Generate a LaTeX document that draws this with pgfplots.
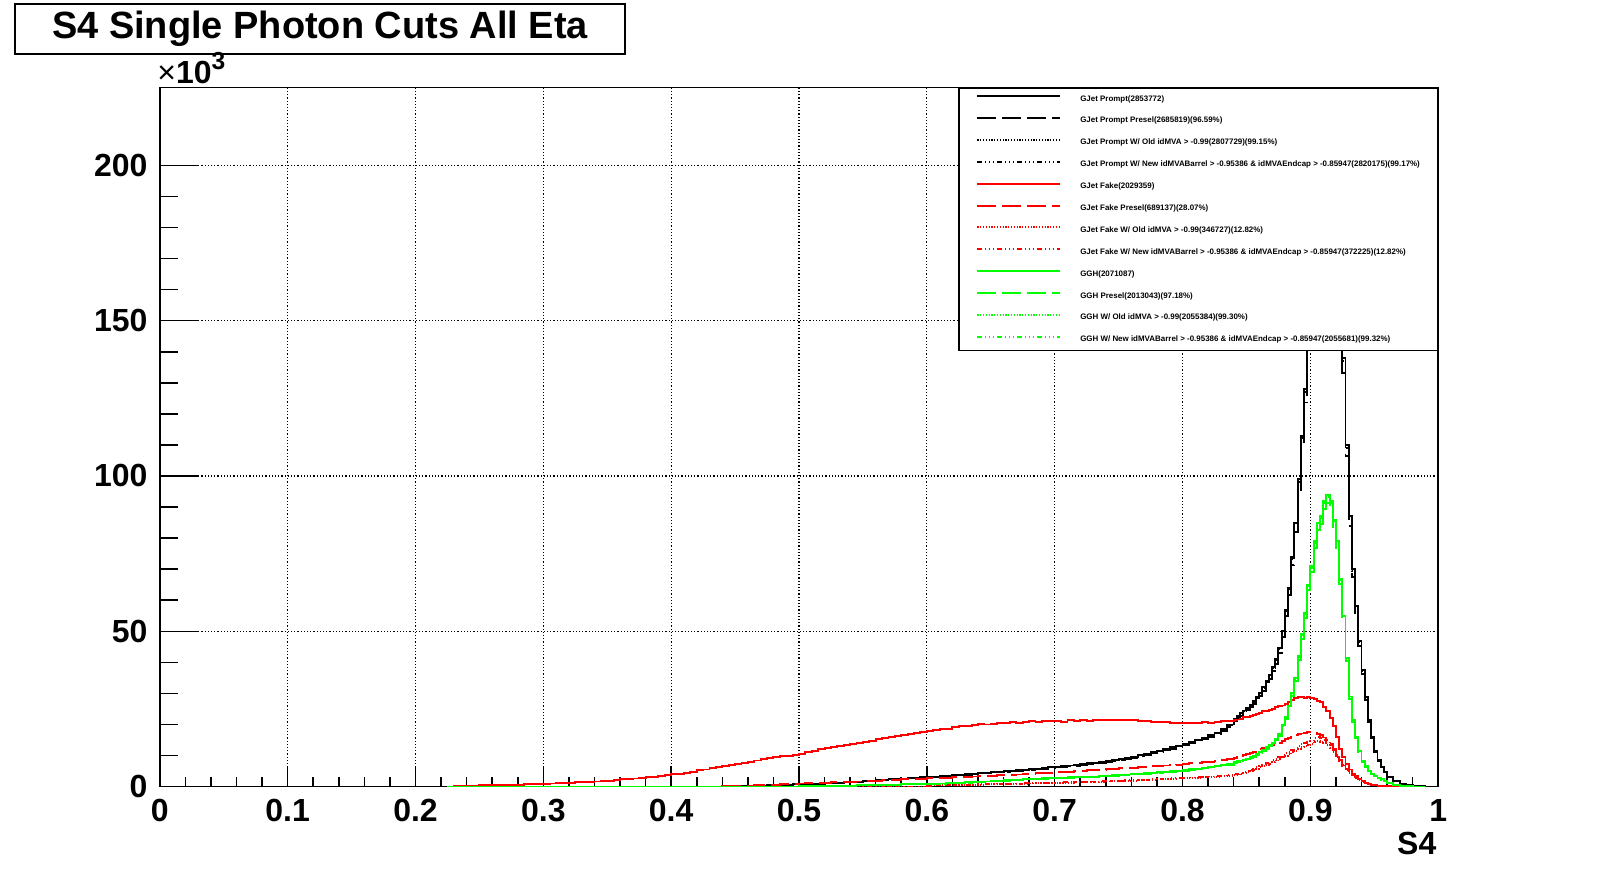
\documentclass[border=0pt]{standalone}
\usepackage{fontspec}
\setmainfont{Liberation Sans}
\usepackage{pgfplots}
\usepackage{pgfplotstable}
\pgfplotsset{compat=1.18}
\pgfplotstableread{
x p pp pm f fp fo fn g gp gm
0.225 0 0 0 0 0 0 0 0 0 0
0.230 0 0 0 0.15 0 0 0 0 0 0
0.235 0 0 0 0.30 0 0 0 0 0 0
0.240 0 0 0 0.35 0 0 0 0 0 0
0.245 0 0 0 0.35 0 0 0 0 0 0
0.250 0 0 0 0.40 0 0 0 0 0 0
0.255 0 0 0 0.45 0 0 0 0 0 0
0.260 0 0 0 0.45 0 0 0 0 0 0
0.265 0 0 0 0.50 0 0 0 0 0 0
0.270 0 0 0 0.55 0 0 0 0 0 0
0.275 0 0 0 0.60 0 0 0 0 0 0
0.280 0 0 0 0.60 0 0 0 0 0 0
0.285 0 0 0 0.70 0 0 0 0 0 0
0.290 0 0 0 0.75 0 0 0 0 0 0
0.295 0 0 0 0.80 0 0 0 0 0 0
0.300 0 0 0 0.90 0 0 0 0 0 0
0.305 0 0 0 1.00 0 0 0 0 0 0
0.310 0 0 0 1.05 0 0 0 0 0 0
0.315 0 0 0 1.15 0 0 0 0 0 0
0.320 0 0 0 1.25 0 0 0 0 0 0
0.325 0 0 0 1.35 0 0 0 0 0 0
0.330 0 0 0 1.45 0 0 0 0 0 0
0.335 0 0 0 1.55 0 0 0 0 0 0
0.340 0 0 0 1.65 0 0 0 0 0 0
0.345 0 0 0 1.80 0 0 0 0 0 0
0.350 0 0 0 1.95 0 0 0 0 0 0
0.355 0 0 0 2.10 0 0 0 0 0 0
0.360 0 0 0 2.30 0 0 0 0 0 0
0.365 0 0 0 2.45 0 0 0 0 0 0
0.370 0 0 0 2.60 0 0 0 0 0 0
0.375 0 0 0 2.80 0 0 0 0 0 0
0.380 0 0 0 3.00 0 0 0 0 0 0
0.385 0 0 0 3.20 0 0 0 0 0 0
0.390 0 0 0 3.40 0 0 0 0 0 0
0.395 0 0 0 3.65 0 0 0 0 0 0
0.400 0 0 0 3.95 0 0 0 0 0 0
0.405 0 0 0 4.20 0 0 0 0 0 0
0.410 0 0 0 4.50 0 0 0 0 0 0
0.415 0 0 0 4.80 0 0 0 0 0 0
0.420 0 0 0 5.20 0 0 0 0 0 0
0.425 0 0 0 5.50 0 0 0 0 0 0
0.430 0 0 0 5.90 0 0 0 0 0 0
0.435 0 0 0 6.30 0 0 0 0 0 0
0.440 0.05 0.05 0.05 6.60 0.05 0 0 0 0 0
0.445 0.10 0.10 0.10 7.00 0.10 0 0 0 0 0
0.450 0.15 0.15 0.15 7.40 0.20 0 0 0 0 0
0.455 0.20 0.19 0.20 7.70 0.25 0 0 0 0 0
0.460 0.25 0.24 0.25 8.00 0.30 0 0 0 0 0
0.465 0.30 0.29 0.30 8.40 0.40 0 0 0 0 0
0.470 0.35 0.34 0.35 8.80 0.45 0 0 0 0 0
0.475 0.45 0.43 0.45 9.20 0.55 0 0 0 0 0
0.480 0.50 0.48 0.50 9.50 0.60 0 0 0 0 0
0.485 0.60 0.58 0.60 9.80 0.70 0 0 0 0 0
0.490 0.65 0.63 0.65 10.0 0.80 0 0 0 0 0
0.495 0.75 0.72 0.75 10.3 0.90 0 0 0 0 0
0.500 0.80 0.77 0.80 10.6 1.00 0 0 0.10 0.10 0.10
0.505 0.90 0.87 0.90 11.0 1.05 0 0 0.10 0.10 0.10
0.510 0.95 0.92 0.95 11.4 1.10 0 0 0.15 0.15 0.15
0.515 1.00 0.97 1.00 12.0 1.20 0 0 0.20 0.19 0.20
0.520 1.10 1.06 1.10 12.4 1.25 0 0 0.20 0.19 0.20
0.525 1.20 1.16 1.20 12.8 1.35 0 0 0.25 0.24 0.25
0.530 1.30 1.26 1.30 13.0 1.40 0 0 0.30 0.29 0.30
0.535 1.40 1.35 1.40 13.4 1.50 0 0 0.30 0.29 0.30
0.540 1.50 1.45 1.50 13.6 1.55 0 0 0.35 0.34 0.35
0.545 1.60 1.55 1.60 14.0 1.65 0 0 0.40 0.39 0.40
0.550 1.70 1.64 1.70 14.4 1.80 0 0 0.40 0.39 0.40
0.555 1.85 1.79 1.85 14.8 1.85 0 0 0.45 0.44 0.45
0.560 2.00 1.93 2.00 15.2 1.95 0 0 0.50 0.49 0.50
0.565 2.15 2.08 2.15 15.5 2.05 0 0 0.55 0.53 0.55
0.570 2.30 2.22 2.30 15.9 2.10 0 0 0.60 0.58 0.60
0.575 2.45 2.37 2.45 16.3 2.20 0 0 0.65 0.63 0.65
0.580 2.60 2.51 2.60 16.5 2.30 0 0 0.70 0.68 0.70
0.585 2.75 2.66 2.75 16.9 2.40 0 0 0.75 0.73 0.75
0.590 2.90 2.80 2.90 17.3 2.50 0 0 0.80 0.78 0.80
0.595 3.00 2.90 3.00 17.6 2.55 0 0 0.85 0.83 0.85
0.600 3.10 3.00 3.10 17.9 2.65 0.30 0.32 0.90 0.87 0.90
0.605 3.20 3.09 3.20 18.2 2.70 0.35 0.37 0.95 0.92 0.95
0.610 3.30 3.19 3.30 18.6 2.80 0.40 0.43 1.00 0.97 1.00
0.615 3.45 3.33 3.45 18.4 2.90 0.45 0.48 1.10 1.07 1.10
0.620 3.60 3.48 3.60 19.1 3.00 0.50 0.54 1.15 1.12 1.15
0.625 3.80 3.67 3.80 19.4 3.05 0.55 0.59 1.25 1.22 1.25
0.630 4.00 3.86 4.00 19.6 3.15 0.55 0.59 1.35 1.31 1.35
0.635 4.15 4.01 4.15 19.8 3.25 0.60 0.64 1.45 1.41 1.45
0.640 4.30 4.15 4.30 20.1 3.30 0.65 0.70 1.55 1.51 1.55
0.645 4.50 4.35 4.50 20.0 3.40 0.70 0.75 1.65 1.60 1.65
0.650 4.70 4.54 4.70 20.3 3.50 0.70 0.75 1.75 1.70 1.75
0.655 4.85 4.69 4.85 20.5 3.60 0.75 0.80 1.90 1.85 1.90
0.660 5.00 4.83 5.00 20.4 3.70 0.80 0.86 2.00 1.94 2.00
0.665 5.15 4.97 5.15 20.7 3.80 0.85 0.91 2.15 2.09 2.15
0.670 5.30 5.12 5.30 20.6 3.90 0.90 0.96 2.25 2.19 2.25
0.675 5.45 5.26 5.45 20.9 4.00 0.95 1.02 2.35 2.28 2.35
0.680 5.60 5.41 5.60 21.0 4.10 1.00 1.07 2.45 2.38 2.45
0.685 5.80 5.60 5.80 20.8 4.25 1.05 1.12 2.55 2.48 2.55
0.690 6.00 5.80 6.00 21.1 4.35 1.10 1.18 2.65 2.58 2.65
0.695 6.20 5.99 6.20 21.0 4.45 1.15 1.23 2.75 2.67 2.75
0.700 6.40 6.18 6.40 21.2 4.60 1.20 1.28 2.85 2.77 2.85
0.705 6.60 6.38 6.60 20.9 4.70 1.25 1.34 2.90 2.82 2.90
0.710 6.80 6.57 6.80 21.3 4.85 1.30 1.39 3.00 2.92 3.00
0.715 7.00 6.76 7.00 21.1 4.95 1.35 1.44 3.05 2.96 3.05
0.720 7.20 6.96 7.20 21.4 5.10 1.40 1.50 3.10 3.01 3.10
0.725 7.45 7.20 7.45 21.2 5.20 1.45 1.55 3.15 3.06 3.15
0.730 7.70 7.44 7.70 21.5 5.30 1.50 1.61 3.25 3.16 3.25
0.735 7.95 7.68 7.95 21.4 5.45 1.55 1.66 3.35 3.26 3.35
0.740 8.20 7.92 8.20 21.5 5.55 1.65 1.77 3.45 3.35 3.45
0.745 8.55 8.26 8.55 21.5 5.70 1.70 1.82 3.60 3.50 3.60
0.750 8.90 8.60 8.90 21.4 5.85 1.80 1.93 3.75 3.65 3.75
0.755 9.25 8.94 9.25 21.5 5.95 1.85 1.98 3.90 3.79 3.90
0.760 9.60 9.27 9.60 21.3 6.10 1.95 2.09 4.00 3.89 4.00
0.765 10.10 9.76 10.02 21.0 6.25 2.00 2.14 4.15 4.03 4.15
0.770 10.60 10.24 10.52 21.1 6.40 2.10 2.25 4.30 4.18 4.30
0.775 11.10 10.72 11.01 20.9 6.50 2.20 2.35 4.45 4.33 4.45
0.780 11.60 11.21 11.51 20.7 6.65 2.30 2.46 4.60 4.47 4.60
0.785 12.10 11.69 12.00 20.8 6.80 2.40 2.57 4.75 4.62 4.75
0.790 12.60 12.17 12.50 20.6 6.95 2.50 2.68 4.90 4.76 4.90
0.795 13.20 12.75 13.09 20.5 7.10 2.60 2.78 5.10 4.96 5.10
0.800 13.80 13.33 13.69 20.6 7.30 2.65 2.84 5.30 5.15 5.30
0.805 14.40 13.91 14.28 20.4 7.45 2.75 2.94 5.55 5.39 5.55
0.810 15.00 14.49 14.88 20.5 7.60 2.85 3.05 5.80 5.64 5.80
0.815 15.70 15.17 15.57 20.7 7.80 2.95 3.16 6.10 5.93 6.10
0.820 16.50 15.94 16.37 20.5 8.00 3.05 3.26 6.40 6.22 6.40
0.825 17.40 16.81 17.26 20.7 8.20 3.15 3.37 6.70 6.51 6.70
0.830 18.60 17.97 18.45 21.0 8.50 3.30 3.53 7.00 6.80 7.00
0.835 20.00 19.32 19.84 21.2 8.80 3.45 3.69 7.30 7.10 7.30
0.8400 21.8 21.06 21.63 21.4 9.3 3.7 3.96 7.8 7.58 7.75
0.8425 22.6 21.83 22.42 21.6 9.5 3.9 4.17 8.1 7.87 8.04
0.8450 23.6 22.80 23.41 21.9 9.8 4.1 4.39 8.4 8.16 8.34
0.8475 24.5 23.67 24.30 22.3 10.1 4.4 4.71 8.7 8.46 8.64
0.8500 25.4 24.54 25.20 22.4 10.5 4.7 5.03 9.0 8.75 8.94
0.8525 26.4 25.50 26.19 22.8 10.8 5.0 5.35 9.4 9.14 9.33
0.8550 27.6 26.66 27.38 23.2 11.2 5.4 5.78 9.9 9.62 9.83
0.8575 28.8 27.82 28.57 23.5 11.6 5.8 6.21 10.5 10.21 10.43
0.8600 30.2 29.17 29.96 23.8 12.0 6.2 6.63 11.0 10.69 10.92
0.8625 32.0 30.91 31.74 24.2 12.3 6.6 7.06 11.8 11.47 11.72
0.8650 34.0 32.84 33.73 24.3 12.7 7.0 7.49 12.6 12.25 12.51
0.8675 36.0 34.78 35.71 24.8 13.0 7.4 7.92 13.3 12.93 13.21
0.8700 38.5 37.19 38.19 25.0 13.4 7.9 8.45 14.2 13.80 14.10
0.8725 41.0 39.61 40.67 25.5 13.8 8.4 8.99 15.3 14.87 15.19
0.8750 44.5 42.99 44.14 25.8 14.1 8.9 9.52 16.8 16.33 16.68
0.8775 50.0 48.30 49.60 26.1 14.6 9.4 10.06 19.8 19.25 19.66
0.8800 57.0 55.06 56.54 26.5 15.2 10.0 10.70 22.5 21.87 22.34
0.8825 64.0 61.82 63.49 27.3 15.7 10.4 11.13 26.0 25.27 25.82
0.8850 74.0 71.48 73.41 28.0 16.3 11.0 11.77 30.0 29.16 29.79
0.8875 85.0 82.11 84.32 28.4 16.7 11.6 12.41 35.0 34.02 34.76
0.8900 99.0 95.63 98.21 28.7 16.9 12.2 13.05 42.0 40.82 41.71
0.8925 113.0 109.16 112.10 28.8 17.1 12.7 13.59 49.0 47.63 48.66
0.8950 128.0 123.65 126.98 28.6 17.3 13.1 14.02 56.0 54.43 55.61
0.8975 150.0 144.90 148.80 28.7 17.6 13.4 14.34 65.0 63.18 64.55
0.9000 172.0 166.20 170.60 28.4 17.7 13.8 14.77 71.0 69.01 70.50
0.9025 190.0 183.50 188.50 28.1 17.2 14.5 15.52 79.0 76.79 78.45
0.9050 204.0 197.10 202.40 27.6 16.9 14.8 15.84 85.0 82.62 84.41
0.9075 213.0 205.80 211.30 27.1 16.5 14.5 15.52 87.0 84.56 86.39
0.9100 214.0 206.70 212.30 25.6 15.8 14.0 14.98 92.0 89.42 91.36
0.9125 208.0 200.90 206.30 24.2 15.0 13.4 14.34 94.0 91.37 93.34
0.9150 196.0 189.30 194.40 22.0 13.8 12.4 13.27 92.0 89.42 91.36
0.9175 180.0 173.90 178.60 19.5 12.0 11.0 11.77 86.0 83.59 85.40
0.9200 163.0 157.50 161.70 16.0 10.3 9.5 10.17 79.0 76.79 78.45
0.9225 148.0 143.00 146.80 12.2 8.5 8.0 8.56 67.0 65.12 66.53
0.9250 138.0 133.30 136.90 9.5 6.8 6.6 7.06 55.0 53.46 54.62
0.9275 110.0 106.30 109.10 7.2 5.6 5.4 5.78 41.5 40.34 41.21
0.9300 87.0 84.00 86.30 5.5 4.5 4.4 4.71 29.0 28.19 28.80
0.9325 70.0 67.60 69.40 4.2 3.7 3.6 3.85 21.5 20.90 21.35
0.9350 58.0 56.00 57.50 3.3 3.0 2.8 3.00 16.0 15.55 15.89
0.9375 47.0 45.40 46.60 2.5 2.4 2.2 2.35 11.5 11.18 11.42
0.9400 37.5 36.20 37.20 1.8 1.8 1.6 1.71 8.2 7.97 8.14
0.9425 29.0 28.00 28.80 1.3 1.3 1.2 1.28 6.5 6.32 6.45
0.9450 21.5 20.80 21.30 0.9 0.9 0.8 0.86 5.0 4.86 4.97
0.9475 16.0 15.50 15.90 0.6 0.6 0.55 0.59 4.2 4.08 4.17
0.9500 11.5 11.10 11.40 0.45 0.4 0.35 0.37 3.5 3.40 3.48
0.9525 8.6 8.30 8.50 0.3 0.3 0.25 0.27 2.9 2.82 2.88
0.9550 6.4 6.20 6.35 0.2 0.2 0.15 0.16 2.3 2.24 2.28
0.9575 4.8 4.60 4.76 0.15 0.1 0.1 0.11 1.8 1.75 1.79
0.960 3.2 3.09 3.17 0.1 0.05 0.05 0.05 1.3 1.26 1.29
0.965 1.7 1.64 1.69 0.05 0 0 0 0.6 0.58 0.60
0.970 0.9 0.87 0.89 0 0 0 0 0.25 0.24 0.25
0.975 0.45 0.43 0.45 0 0 0 0 0.05 0.05 0.05
0.980 0.2 0.19 0.2 0 0 0 0 0 0 0
0.985 0.05 0.05 0.05 0 0 0 0 0 0 0
0.990 0 0 0 0 0 0 0 0 0 0
}\histdata
\tikzset{
  rdashed/.style={dash pattern=on 1.9mm off 0.6mm},
  rdotted/.style={dash pattern=on 0.12mm off 0.16mm},
  rdashdot/.style={dash pattern=on 0.5mm off 0.3mm on 0.1mm off 0.3mm on 0.1mm off 0.3mm on 0.1mm off 0.3mm},
}
\begin{document}
\begin{tikzpicture}
\useasboundingbox (0,0) rectangle (15.98cm,8.74cm);
\begin{axis}[
  at={(1.598cm,0.874cm)}, anchor=south west,
  scale only axis, width=12.784cm, height=6.992cm,
  xmin=0, xmax=1, ymin=0, ymax=225.1,
  xtick={0,0.1,0.2,0.3,0.4,0.5,0.6,0.7,0.8,0.9,1},
  minor x tick num=4,
  ytick={0,50,100,150,200}, minor y tick num=4,
  tick align=inside, tick pos=left,
  major tick length=0.21cm, minor tick length=0.1cm,
  grid=major,
  grid style={black, line width=0.3pt, dash pattern=on 0.12mm off 0.2mm},
  axis line style={black, line width=0.45pt},
  every tick/.style={black, line width=0.45pt},
  tick label style={font=\fontsize{9.1}{10}\selectfont\bfseries},
  /pgf/number format/assume math mode=true,
  scaled ticks=false,
  legend style={at={(1,1)}, anchor=north east, draw=black, line width=0.45pt,
    fill=white, inner xsep=1.75mm, inner ysep=2pt, row sep=4.1pt,
    font=\fontsize{2.26}{2.7}\selectfont\bfseries,
    nodes={inner sep=0pt, text height=1.65pt, text depth=0.45pt},
    /tikz/every odd column/.append style={column sep=0.19cm}},
  legend cell align=left,
  legend image code/.code={\draw[#1] (0cm,0.8pt) -- (0.83cm,0.8pt);},
  every axis plot/.append style={const plot mark left, line width=0.55pt},
]
\addplot[black] table[x=x,y=p]{\histdata};
\addlegendentry{GJet Prompt(2853772)}
\addplot[black, rdashed] table[x=x,y=pp]{\histdata};
\addlegendentry{GJet Prompt Presel(2685819)(96.59\%)}
\addplot[black, rdotted] table[x=x,y=pm]{\histdata};
\addlegendentry{GJet Prompt W/ Old idMVA > -0.99(2807729)(99.15\%)}
\addplot[black, rdashdot] table[x=x,y=pm]{\histdata};
\addlegendentry{GJet Prompt W/ New idMVABarrel > -0.95386 \& idMVAEndcap > -0.85947(2820175)(99.17\%)}
\addplot[red] table[x=x,y=f]{\histdata};
\addlegendentry{GJet Fake(2029359)}
\addplot[red, rdashed] table[x=x,y=fp]{\histdata};
\addlegendentry{GJet Fake Presel(689137)(28.07\%)}
\addplot[red, rdotted] table[x=x,y=fo]{\histdata};
\addlegendentry{GJet Fake W/ Old idMVA > -0.99(346727)(12.82\%)}
\addplot[red, rdashdot] table[x=x,y=fn]{\histdata};
\addlegendentry{GJet Fake W/ New idMVABarrel > -0.95386 \& idMVAEndcap > -0.85947(372225)(12.82\%)}
\addplot[green] table[x=x,y=g]{\histdata};
\addlegendentry{GGH(2071087)}
\addplot[green, rdashed] table[x=x,y=gp]{\histdata};
\addlegendentry{GGH Presel(2013043)(97.18\%)}
\addplot[green, rdotted] table[x=x,y=gm]{\histdata};
\addlegendentry{GGH W/ Old idMVA > -0.99(2055384)(99.30\%)}
\addplot[green, rdashdot] table[x=x,y=gm]{\histdata};
\addlegendentry{GGH W/ New idMVABarrel > -0.95386 \& idMVAEndcap > -0.85947(2055681)(99.32\%)}
\end{axis}
\begin{axis}[
  at={(1.598cm,0.874cm)}, anchor=south west,
  scale only axis, width=12.784cm, height=6.992cm,
  xmin=0, xmax=1, ymin=0, ymax=225.1,
  hide x axis, axis y line*=left,
  ytick={0,50,100,150,200}, minor y tick num=4, yticklabels={},
  tick align=inside,
  major tick length=0.386cm, minor tick length=0.18cm,
  axis line style={black, line width=0.45pt},
  every tick/.style={black, line width=0.45pt},
]
\end{axis}
\node[draw=black, line width=0.45pt, fill=white, minimum width=6.1cm,
  minimum height=0.5cm, inner sep=0pt,
  font=\fontsize{10.8}{13}\selectfont\bfseries] at (3.2cm,8.45cm)
  {S4 Single Photon Cuts All Eta};
\node[anchor=base west, inner sep=0pt]
  at (1.567cm,7.907cm) {\fontsize{9.1}{10}\selectfont ×\bfseries 10\raisebox{3.9pt}{\fontsize{7}{8}\selectfont 3}};
\node[anchor=base east, inner sep=0pt, font=\fontsize{9.1}{10}\selectfont\bfseries]
  at (14.37cm,0.19cm) {S4};
\end{tikzpicture}
\end{document}
